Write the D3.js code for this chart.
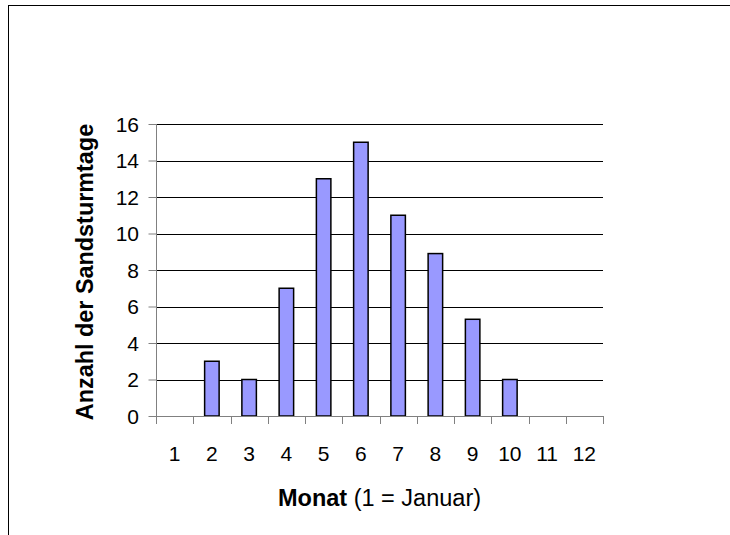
<!DOCTYPE html>
<html><head><meta charset="utf-8">
<script src="https://cdn.jsdelivr.net/npm/d3@7"></script>
<style>body{margin:0;background:#fff;} text{font-family:Arial,"Liberation Sans",sans-serif;fill:#000;}</style>
</head><body>
<svg id="c" width="730" height="535"></svg>
<script>
const months = ["1","2","3","4","5","6","7","8","9","10","11","12"];
const values = [0,3,2,7,13,15,11,8.9,5.3,2,0,0];
const yTicks = [0,2,4,6,8,10,12,14,16];

const svg = d3.select("#c");
svg.append("rect").attr("x",8.5).attr("y",5.5).attr("width",740).attr("height",540)
  .attr("fill","#fff").attr("stroke","#000").attr("stroke-width",1);

const L=156, R=603, T=124, B=416;
const x = d3.scaleBand().domain(months).range([L,R]);
const y = d3.scaleLinear().domain([0,16]).range([B,T]);

// gridlines
svg.append("g").selectAll("line").data(yTicks.filter(d=>d>0)).join("line")
  .attr("x1",L).attr("x2",R).attr("y1",d=>Math.round(y(d))+0.5).attr("y2",d=>Math.round(y(d))+0.5)
  .attr("stroke","#000").attr("stroke-width",1);

// bars
const bw = 14.5;
const data = values.map((v,i)=>({m:months[i],v})).filter(d=>d.v>0);
svg.append("g").selectAll("rect").data(data).join("rect")
  .attr("x",d=>x(d.m)+x.bandwidth()/2-bw/2)
  .attr("y",d=>y(d.v))
  .attr("width",bw)
  .attr("height",d=>B-y(d.v))
  .attr("fill","#9999ff").attr("stroke","#000").attr("stroke-width",1.5);

// y axis
const ya = svg.append("g").attr("transform",`translate(${L+0.5},0)`)
  .call(d3.axisLeft(y).tickValues(yTicks).tickSize(8).tickFormat(""));
ya.select(".domain").attr("stroke","#808080").attr("d",`M0,${T}V${B}`);
ya.selectAll(".tick line").attr("stroke","#808080");
svg.append("g").selectAll("text").data(yTicks).join("text")
  .attr("x",139).attr("y",d=>y(d)).attr("dy","0.36em").attr("text-anchor","end")
  .attr("font-size",21).text(d=>d);

// x axis
const xa = svg.append("g").attr("transform",`translate(0,${B+0.5})`)
  .call(d3.axisBottom(x).tickSize(0).tickFormat(""));
xa.select(".domain").attr("stroke","#808080").attr("d",`M${L},0H${R}`);
svg.append("g").selectAll("text").data(months).join("text")
  .attr("x",d=>x(d)+x.bandwidth()/2).attr("y",461).attr("text-anchor","middle")
  .attr("font-size",21).text(d=>d);
// category boundary ticks
const bounds = months.map(m=>x(m)).concat([R]);
svg.append("g").selectAll("line").data(bounds).join("line")
  .attr("x1",d=>Math.round(d)+0.5).attr("x2",d=>Math.round(d)+0.5)
  .attr("y1",B).attr("y2",B+8).attr("stroke","#808080");

// x title
const xt = svg.append("text").attr("x",(L+R)/2).attr("y",506).attr("text-anchor","middle").attr("font-size",23.5);
xt.append("tspan").attr("font-weight","bold").text("Monat");
xt.append("tspan").text(" (1 = Januar)");

// y title
svg.append("text").attr("transform",`translate(93,${(T+B)/2+2}) rotate(-90)`)
  .attr("text-anchor","middle").attr("font-size",23.4).attr("font-weight","bold").text("Anzahl der Sandsturmtage");
</script>
</body></html>
